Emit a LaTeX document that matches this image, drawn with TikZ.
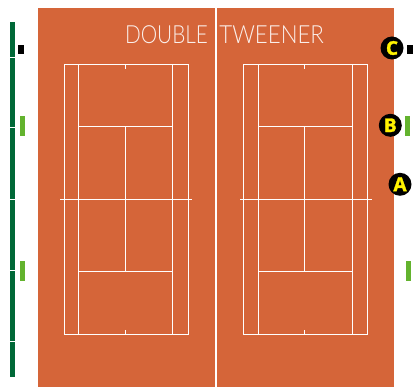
\documentclass[tikz,border=0pt]{standalone}
\usepackage{fontspec}
\setmainfont{Carlito}
\newfontfamily\titlefonta[FakeStretch=0.83]{Lato Light}
\newfontfamily\titlefontb[FakeStretch=0.89]{Lato Light}
\newfontfamily\badgefont[FakeBold=1.6]{Open Sans Bold}
\definecolor{clay}{HTML}{D56539}
\definecolor{stripgreen}{HTML}{006837}
\definecolor{limebar}{HTML}{63B32E}
\definecolor{badgeyellow}{HTML}{FFF200}
\tikzset{
  courtline/.style={draw=white,line width=1.1pt},
  badge/.style={circle,fill=black,minimum size=23pt,inner sep=0pt,text=badgeyellow,font=\badgefont\fontsize{19}{19}\selectfont},
  titletext/.style={text=white,opacity=.9,inner sep=0pt,font=\fontsize{25}{25}\selectfont},
}
\newcommand{\courtplan}[5]{%
  \draw[courtline] (#1,64.5) rectangle (#5,334.3);
  \draw[courtline] (#2,64.5) -- (#2,334.3);
  \draw[courtline] (#4,64.5) -- (#4,334.3);
  \draw[courtline] (#2,126.5) -- (#4,126.5);
  \draw[courtline] (#2,271.3) -- (#4,271.3);
  \draw[courtline] (#3,126.5) -- (#3,271.3);
  \draw[courtline] (#3,64.5) -- (#3,69);
  \draw[courtline] (#3,330) -- (#3,334.3);
}
\begin{document}
\begin{tikzpicture}[x=1pt,y=-1pt]
\useasboundingbox (0,0) rectangle (415,387);
\fill[white] (0,0) rectangle (415,387);
\fill[clay] (38,8) rectangle (394,387);
\fill[white] (215,8) rectangle (217,387);
\courtplan{64.5}{78.5}{125.5}{172.3}{188.3}
\draw[courtline] (60,199.3) -- (192,199.3);
\courtplan{243.3}{258.3}{304.3}{352.3}{367.3}
\draw[courtline] (240,199.3) -- (371.7,199.3);
\node[titletext,anchor=base] (title) at (224.5,44) {{\titlefonta DOUBLE}\hspace{11.5pt}{\titlefontb TWEENER}};
\fill[stripgreen] (10,22) rectangle (15,377);
\foreach \gy in {57.3,128,199.3,270.3,341.3}
  \fill[white] (10,\gy-.5) rectangle (15,\gy+.5);
\fill[black] (18,45) rectangle (24,54);
\fill[black] (407,45) rectangle (413,54);
\fill[limebar] (20,116) rectangle (25,136);
\fill[limebar] (20,261) rectangle (25,281);
\fill[limebar] (405,116) rectangle (410,136);
\fill[limebar] (406,261) rectangle (411,281);
\node[badge] (c) at (392,48) {C};
\node[badge] (b) at (390.3,125.3) {B};
\node[badge] (a) at (400,184.3) {A};
\end{tikzpicture}
\end{document}
